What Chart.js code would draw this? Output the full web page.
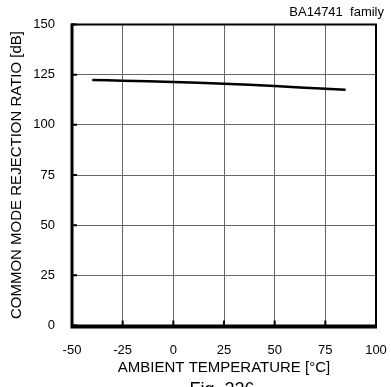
<!DOCTYPE html>
<html>
<head>
<meta charset="utf-8">
<script src="https://cdn.jsdelivr.net/npm/chart.js@4.4.1/dist/chart.umd.min.js"></script>
<style>
  html, body { margin: 0; padding: 0; background: #fff; }
  canvas { display: block; }
</style>
</head>
<body>
<canvas id="cmrrChart" width="391" height="387"></canvas>
<script>
// CMRR vs ambient temperature (BA14741 family)
const temperatures = [-40, -25, 0, 25, 50, 75, 85];
const cmrrValues = [122.3, 122.0, 121.3, 120.5, 119.3, 118.0, 117.5];
const xTicks = [-50, -25, 0, 25, 50, 75, 100];
const yTicks = [0, 25, 50, 75, 100, 125, 150];

const FONT = 'Liberation Sans, Arial, sans-serif';

// thick frame + inward tick marks + captions
const framePlugin = {
  id: 'frame',
  afterDraw(chart) {
    const { ctx, chartArea: a, scales } = chart;
    ctx.save();
    ctx.strokeStyle = '#000';
    ctx.lineWidth = 2;
    ctx.strokeRect(a.left, a.top, a.right - a.left, a.bottom - a.top);
    ctx.lineWidth = 3;
    ctx.beginPath();
    ctx.moveTo(a.left, a.top - 1);
    ctx.lineTo(a.left, a.bottom + 1.5);
    ctx.lineTo(a.right + 1, a.bottom + 1.5);
    ctx.stroke();

    ctx.lineWidth = 2;
    ctx.beginPath();
    yTicks.forEach(v => {
      const y = scales.y.getPixelForValue(v);
      ctx.moveTo(a.left, y);
      ctx.lineTo(a.left + 5, y);
    });
    xTicks.forEach(v => {
      const x = scales.x.getPixelForValue(v);
      ctx.moveTo(x, a.bottom);
      ctx.lineTo(x, a.bottom - 5);
    });
    ctx.stroke();

    ctx.fillStyle = '#000';
    ctx.font = '13px ' + FONT;
    ctx.textAlign = 'right';
    ctx.textBaseline = 'alphabetic';
    ctx.fillText('BA14741  family', 384, 16);

    ctx.font = '18px ' + FONT;
    ctx.textAlign = 'center';
    ctx.textBaseline = 'top';
    ctx.fillText('Fig. 226', 222, 381);
    ctx.restore();
  }
};

new Chart(document.getElementById('cmrrChart'), {
  type: 'line',
  data: {
    datasets: [{
      data: temperatures.map((t, i) => ({ x: t, y: cmrrValues[i] })),
      borderColor: '#000',
      borderWidth: 2.5,
      pointRadius: 0,
      tension: 0.2,
      fill: false
    }]
  },
  options: {
    responsive: false,
    animation: false,
    layout: { padding: { left: 0, top: 24.5, right: 15, bottom: 0 } },
    plugins: {
      legend: { display: false },
      tooltip: { enabled: false }
    },
    scales: {
      x: {
        type: 'linear',
        min: -50,
        max: 100,
        afterBuildTicks: s => { s.ticks = xTicks.map(v => ({ value: v })); },
        afterFit: s => { s.height = 61.5; s.paddingLeft = 0; s.paddingRight = 0; },
        grid: { color: '#666', lineWidth: 1, drawTicks: false },
        border: { display: false },
        ticks: { color: '#000', font: { family: FONT, size: 13 }, padding: 17, maxRotation: 0 },
        title: {
          display: true,
          text: 'AMBIENT TEMPERATURE [°C]',
          color: '#000',
          font: { family: FONT, size: 15 },
          padding: { top: 0, bottom: 10 }
        }
      },
      y: {
        type: 'linear',
        min: 0,
        max: 150,
        afterBuildTicks: s => { s.ticks = yTicks.map(v => ({ value: v })); },
        afterFit: s => { s.width = 72; s.paddingTop = 0; s.paddingBottom = 0; },
        grid: { color: '#666', lineWidth: 1, drawTicks: false },
        border: { display: false },
        ticks: { color: '#000', font: { family: FONT, size: 13 }, padding: 17 },
        title: {
          display: true,
          text: 'COMMON MODE REJECTION RATIO [dB]',
          color: '#000',
          font: { family: FONT, size: 15 },
          padding: { top: 8, bottom: 0 }
        }
      }
    }
  },
  plugins: [framePlugin]
});
</script>
</body>
</html>
